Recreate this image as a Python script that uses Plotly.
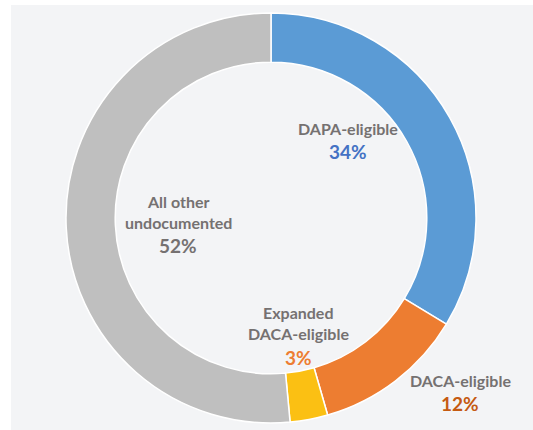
import plotly.graph_objects as go

# Share of the undocumented population by deferred-action eligibility
categories = ["DAPA-eligible", "DACA-eligible", "Expanded DACA-eligible", "All other undocumented"]
shares = [34, 12, 3, 52]
slice_colors = ["#5B9BD5", "#ED7D31", "#FBC013", "#BFBFBF"]

# Label blocks: (name lines, value colour, centre in pixels)
label_lines = [["DAPA-eligible"], ["DACA-eligible"], ["Expanded", "DACA-eligible"], ["All other", "undocumented"]]
value_colors = ["#4472C4", "#C55A11", "#ED7D31", "#757171"]
label_pos = [(348, 128), (460, 380), (298, 312), (178, 201)]

W, H = 533, 430
NAME_COLOR = "#757171"
FONT = "Lato"
LINE_H = 21.5

fig = go.Figure(
    go.Pie(
        labels=categories,
        values=shares,
        hole=0.76,
        sort=False,
        direction="clockwise",
        rotation=0,
        marker=dict(colors=slice_colors, line=dict(color="white", width=1.5)),
        textinfo="none",
        hoverinfo="label+value",
        showlegend=False,
        domain=dict(x=[(271 - 205) / W, (271 + 205) / W], y=[1 - 423 / H, 1 - 13 / H]),
    )
)

annotations = []
for lines, val, col, (px, py) in zip(label_lines, shares, value_colors, label_pos):
    for i, line in enumerate(lines):
        annotations.append(dict(
            x=px / W, y=1 - (py + i * LINE_H) / H, xref="paper", yref="paper",
            text=f"<b>{line}</b>", showarrow=False,
            font=dict(family=FONT, size=16, color=NAME_COLOR),
            xanchor="center", yanchor="middle",
        ))
    vy = py + len(lines) * LINE_H + 2
    annotations.append(dict(
        x=px / W, y=1 - vy / H, xref="paper", yref="paper",
        text=f"<b>{val}%</b>", showarrow=False,
        font=dict(family=FONT, size=19, color=col),
        xanchor="center", yanchor="middle",
    ))

fig.update_layout(
    width=W, height=H,
    margin=dict(l=0, r=0, t=0, b=0),
    paper_bgcolor="white",
    plot_bgcolor="white",
    annotations=annotations,
    shapes=[dict(
        type="rect", xref="paper", yref="paper", layer="below",
        x0=11 / W, x1=1, y0=0, y1=1 - 5 / H,
        fillcolor="#F3F4F6", line=dict(width=0),
    )],
)

fig.write_html("out.html")
